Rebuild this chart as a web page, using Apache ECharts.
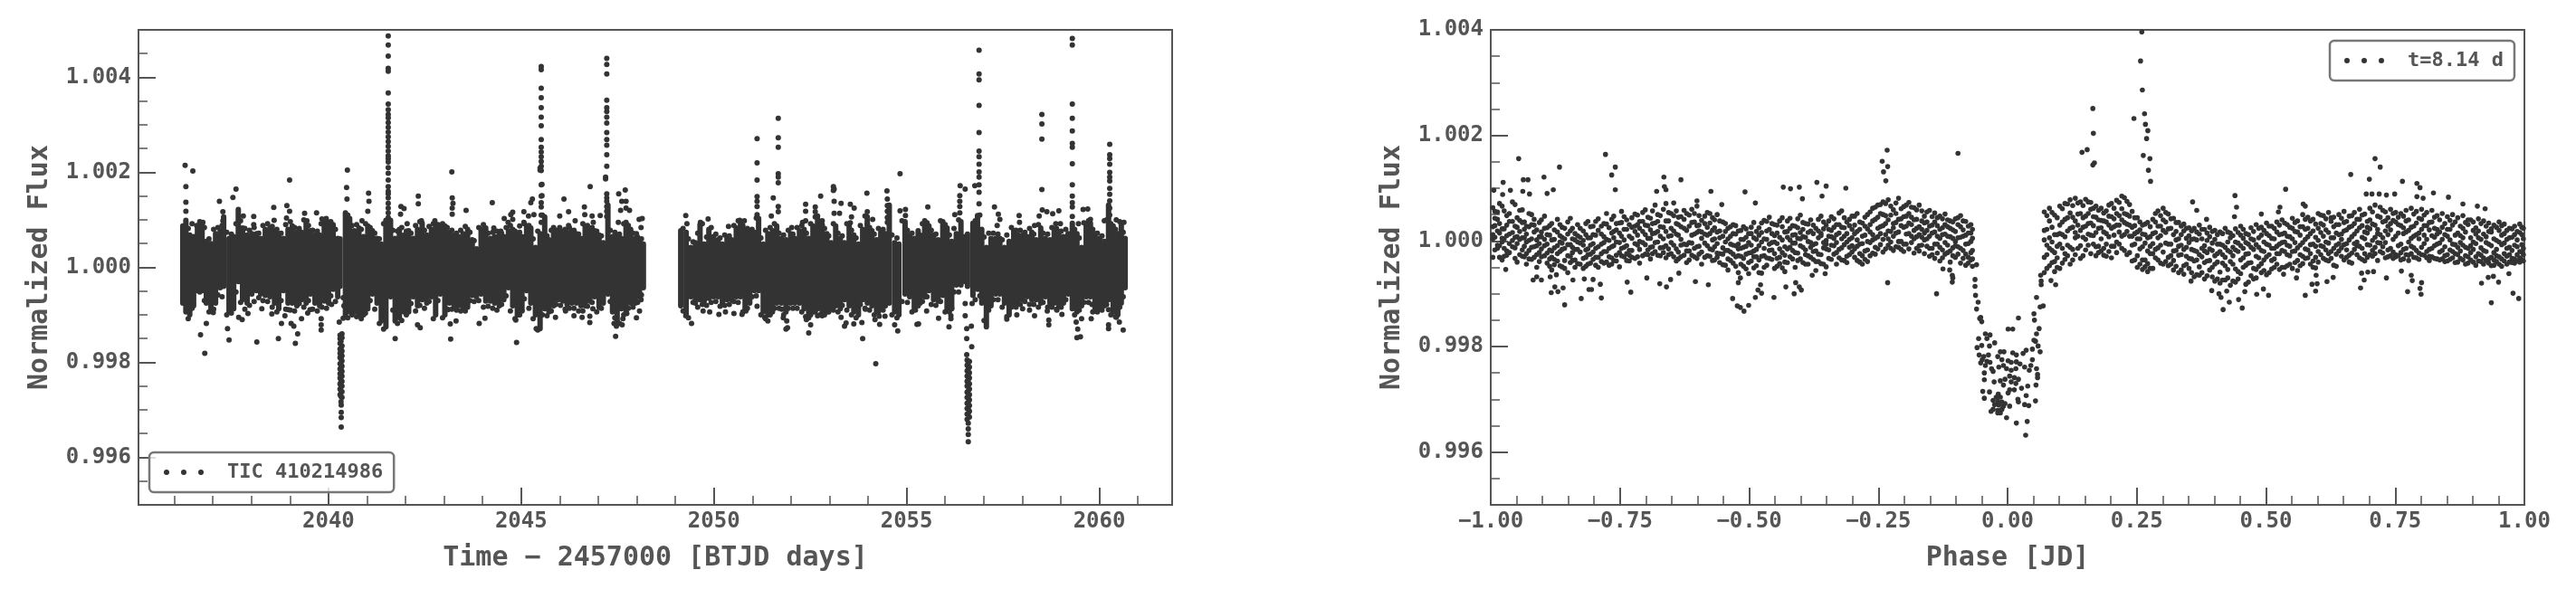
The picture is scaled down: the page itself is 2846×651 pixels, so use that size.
<!DOCTYPE html>
<html>
<head>
<meta charset="utf-8">
<title>TIC 410214986</title>
<script src="https://cdn.jsdelivr.net/npm/echarts@6/dist/echarts.min.js"></script>
<style>
html, body { margin: 0; padding: 0; background: #fff; }
#chart { width: 2846px; height: 651px; }
</style>
</head>
<body>
<div id="chart"></div>
<script>
// flux values below are (flux - 1) * 1e5; time is BTJD - 2000
const timeLabels = [2040, 2045, 2050, 2055, 2060]
const timeMinor = [2036, 2037, 2038, 2039, 2041, 2042, 2043, 2044, 2046, 2047, 2048, 2049, 2051, 2052, 2053, 2054, 2056, 2057, 2058, 2059, 2061]
const fluxLabels = [0.996, 0.998, 1.000, 1.002, 1.004]
const fluxMinor = [0.9955, 0.9965, 0.997, 0.9975, 0.9985, 0.999, 0.9995, 1.0005, 1.001, 1.0015, 1.0025, 1.003, 1.0035, 1.0045]
const phaseLabels = [-1, -0.75, -0.5, -0.25, 0, 0.25, 0.5, 0.75, 1]
const phaseMinor = [-0.95, -0.9, -0.85, -0.8, -0.7, -0.65, -0.6, -0.55, -0.45, -0.4, -0.35, -0.3, -0.2, -0.15, -0.1, -0.05, 0.05, 0.1, 0.15, 0.2, 0.3, 0.35, 0.4, 0.45, 0.55, 0.6, 0.65, 0.7, 0.8, 0.85, 0.9, 0.95]
const foldFluxMinor = [0.9955, 0.9965, 0.997, 0.9975, 0.9985, 0.999, 0.9995, 1.0005, 1.001, 1.0015, 1.0025, 1.003, 1.0035]

// solid body of the light curve, too dense to read point by point: [time, top, bottom]
const curveBody = [
  [36.22,87,-75],[36.30,99,-94],[36.40,68,-100],[36.50,65,-81],[36.60,87,-49],[36.72,93,-49],[36.83,55,-75],[36.95,50,-87],[37.07,71,-75],[37.19,77,-43],
  [37.28,106,-40],[37.42,61,-94],[37.54,65,-87],[37.66,122,-30],[37.77,83,-68],[37.89,68,-75],[38.01,71,-56],[38.13,71,-49],[38.24,61,-56],[38.36,80,-59],
  [38.48,83,-62],[38.60,77,-75],[38.71,71,-87],[38.83,61,-49],[38.95,80,-75],[39.06,87,-75],[39.18,74,-81],[39.30,74,-68],[39.42,93,-75],[39.53,77,-56],
  [39.65,68,-75],[39.77,68,-81],[39.89,99,-71],[40.00,93,-75],[40.12,90,-46],[40.24,61,-62],[40.30,60,-40],[40.44,115,-100],[40.55,103,-94],[40.67,77,-94],[40.79,83,-100],
  [40.91,65,-100],[41.02,87,-87],[41.14,77,-56],[41.26,61,-75],[41.37,49,-113],[41.49,99,-125],[41.61,99,-62],[41.73,61,-113],[41.84,80,-106],[41.96,68,-94],
  [42.08,77,-94],[42.20,61,-62],[42.31,80,-81],[42.43,93,-68],[42.55,68,-75],[42.67,80,-62],[42.78,90,-100],[42.90,87,-56],[43.02,87,-100],
  [43.14,74,-75],[43.26,68,-81],[43.37,65,-81],[43.49,71,-84],[43.61,80,-84],[43.73,58,-59],[43.84,39,-62],[43.96,80,-56],[44.08,83,-71],[44.20,61,-71],
  [44.31,65,-75],[44.43,68,-81],[44.55,65,-68],[44.67,77,-43],[44.78,80,-81],[44.90,68,-100],[45.02,65,-91],[45.14,87,-49],[45.25,83,-75],[45.37,42,-100],
  [45.49,71,-129],[45.61,106,-87],[45.72,58,-94],[45.84,71,-81],[45.96,71,-68],[46.08,71,-71],[46.19,74,-78],[46.31,77,-75],[46.43,71,-75],[46.55,61,-81],
  [46.66,87,-81],[46.78,80,-71],[46.90,77,-62],[47.02,68,-84],[47.13,52,-75],[47.25,131,-56],[47.37,65,-94],[47.49,68,-113],[47.60,61,-87],[47.72,93,-94],
  [47.84,80,-75],[47.96,61,-75],[48.07,55,-62],[48.17,49,-43],
  [49.14,77,-81],[49.28,74,-100],[49.40,42,-62],[49.52,52,-75],[49.64,90,-68],[49.75,49,-71],[49.87,80,-65],[49.99,65,-62],[50.11,58,-62],[50.22,49,-75],
  [50.34,61,-68],[50.46,58,-68],[50.58,83,-62],[50.69,96,-62],[50.81,80,-87],[50.93,77,-75],[51.05,74,-49],[51.16,103,-49],[51.28,49,-94],[51.40,71,-100],
  [51.52,77,-94],[51.63,87,-75],[51.75,61,-75],[51.87,58,-94],[51.99,71,-75],[52.10,61,-75],[52.22,77,-75],[52.34,80,-87],[52.46,61,-106],[52.57,87,-94],
  [52.69,103,-87],[52.81,90,-94],[52.93,71,-94],[53.04,52,-87],[53.16,87,-81],[53.28,61,-87],[53.39,52,-68],[53.51,87,-81],[53.63,68,-94],[53.75,49,-100],
  [53.86,80,-68],[53.98,106,-75],[54.10,77,-81],[54.22,58,-94],[54.33,74,-87],[54.45,71,-81],[54.55,131,-75],[54.69,52,-94],[54.80,49,-100],[54.96,96,-56],
  [55.08,68,-62],[55.20,61,-87],[55.30,77,-81],
  [55.35,68,-75],[55.47,87,-62],[55.58,87,-49],[55.70,68,-68],[55.82,58,-71],[55.94,96,-59],[56.05,83,-87],[56.17,55,-87],[56.29,71,-37],[56.41,96,-37],
  [56.52,65,-30],[56.58,70,-40],[56.72,93,-56],[56.84,109,-46],[56.95,80,-75],[57.07,42,-125],[57.19,61,-81],[57.31,61,-56],[57.42,61,-56],[57.54,42,-75],[57.66,55,-100],
  [57.78,77,-75],[57.89,68,-75],[58.01,68,-68],[58.13,65,-62],[58.25,74,-68],[58.36,58,-68],[58.48,83,-75],[58.60,61,-62],[58.72,58,-75],[58.83,77,-75],
  [58.95,74,-81],[59.07,65,-75],[59.19,71,-56],[59.30,93,-87],[59.42,71,-94],[59.54,42,-81],[59.66,90,-62],[59.77,93,-62],[59.89,71,-87],[60.01,61,-87],
  [60.13,55,-81],[60.24,131,-68],[60.36,87,-94],[60.48,71,-100],[60.57,90,-75],[60.67,61,-43]
]

// single points standing clear of the body: [time, flux, flux, ...]
const curvePoints = [
  [36.28,215],[36.48,203],[36.30,170,137,118],[37.60,165],[37.52,147],[37.17,139],[37.26,117,98],[38.99,184,118],[38.92,130],[38.58,126],[38.06,107,90],[37.79,108],
  [38.59,99],[38.91,104],[39.38,114],[39.69,115],[39.44,98],[39.81,92],[39.94,103],[36.74,95],[36.58,88],[40.49,205],[40.47,168],[40.48,144],[41.04,156],[41.05,139],
  [41.02,118],[40.87,98],[42.33,150,134],[41.88,128],[41.96,124],[41.87,112],[42.04,92],[42.41,98],[42.76,98],
  [41.55,487,468,445,419,413,367,344,332,322,315,305,295,285,275,265,255,245,235,229,222,210,198,184,170,160,155,146,135,125,115,105,95,85],
  [36.83,-118],[36.68,-142],[36.79,-181],[37.38,-129],[37.42,-153],[38.14,-157],[38.70,-150],[39.20,-140],[39.14,-160],[40.08,-78],[39.81,-108,-121,-132],[38.78,-118],
  [39.03,-118],[39.10,-124],[39.30,-108],[39.46,-96],[39.52,-89],[37.01,-95],[37.67,-105],[37.76,-110],[37.91,-97],[38.27,-87],[38.53,-98],[38.96,-89],[38.87,-102],
  [40.38,-107,-64],[40.28,-115],[40.40,-81],[41.73,-150],[42.31,-121],[42.38,-127],
  [40.33,-290,-305,-316,-336],[40.30,-143,-150,-160,-172,-181,-190,-203,-214,-224,-233,-245,-256,-268],[40.35,-140,-148,-165,-176,-186,-197,-208,-219,-229,-240,-250,-262,-274],[40.325,-155,-170,-180,-193,-205,-215,-227,-238,-250,-260,-272,-283],
  [43.20,201],[43.21,146,125,112],[43.23,135],[43.57,120],[44.25,136],[45.29,144],[45.25,136],[44.78,116,101],[44.73,111],[44.56,103],[44.66,95],[45.07,117,95],[45.19,108],
  [45.33,111],[46.79,170],[46.11,144],[46.23,117,88],[46.00,108,84],[46.64,127],[46.65,111],[46.84,108],[47.05,109],[46.87,95],[46.40,98],[45.84,84],[44.96,87],[44.29,83],[44.47,76],
  [45.52,423,416,377,357,336,316,298,269,253,243,233,223,213,204,174,150,136,127,110,95],[45.49,209,205],[45.54,175,151],
  [47.22,440,427,407,352,336,328,316,304,284,269,257,237,213,155,146,139,128,118,107],[47.19,190,186],
  [47.53,155],[47.70,163],[47.61,139],[47.72,139,125,95],[47.81,120],[47.58,120],[47.52,95],[48.06,101],[48.14,103],[48.11,84],[47.99,71],
  [43.10,-89],[43.31,-113],[43.16,-119],[43.17,-151],[44.06,-107],[43.91,-118],[44.88,-158],[44.86,-111],[45.02,-92],[45.89,-105],[46.15,-92],[46.37,-102],[46.78,-103,-116],
  [46.86,-87],[46.58,-105],[47.45,-145],[47.62,-121],[47.64,-108],[47.99,-106],[48.07,-92],[47.74,-97],[48.11,-68],[47.41,-118],[47.47,-124],[45.39,-129],
  [51.12,271,220,184,149,139,128,111],[51.67,314,273,253,197,190,178,128,117],[51.54,146],[51.49,108],[49.27,109,-102],[49.30,92],[49.85,102],[49.65,95],[50.38,86],[50.67,99],[50.79,98],
  [52.77,150],[53.12,165,139,114],[53.10,170,162],[53.30,135],[53.26,114],[52.38,133,118,98],[52.63,127,117],[52.69,108],[52.81,98],[52.30,95],[52.02,84],[53.54,133,94],[53.64,125],[53.57,106],
  [53.97,156],[54.49,161],[54.50,144,130,118,105,95],[54.83,197,119],[54.97,122,109],[53.98,117,92],[54.12,101],
  [49.42,-118],[49.72,-92],[49.89,-94],[50.13,-99],[50.30,-94],[50.52,-97],[50.73,-99],[50.83,-92],[51.12,-82],[51.32,-105],[51.40,-113],[51.44,-92],[51.76,-88],[51.80,-106],[51.89,-113],
  [51.87,-130],[51.91,-127],[52.38,-104],[52.46,-138],[52.51,-121],[52.69,-102],[52.81,-102],[53.30,-105],[53.39,-124],[53.43,-117],[53.63,-119],[53.84,-116],[53.86,-150],[54.20,-203],
  [53.93,-88],[54.18,-110],[54.29,-103],[54.44,-103],[54.30,-120],[54.69,-121],[54.77,-134],[55.23,-90],[55.27,-120],
  [56.39,172],[56.52,165],[56.77,172],[56.38,151,139,128,115],[56.25,111],[56.88,457,407,395,341,284,245,233,217,201,190,174,158,134],[55.55,127],[55.47,98],[57.28,127],[57.38,112],[57.42,101],[57.35,88],
  [57.92,109],[57.93,95],[58.51,322,302,270,164],[58.44,108],[58.52,121],[58.64,117],[58.79,113],[58.95,119],[58.32,88],[58.87,92],[58.99,92],[59.30,482,468,344,314,287,261,253,218,174,150,136,127,107],
  [59.58,122],[59.70,123],[59.77,101],[59.46,92],[60.13,98],[60.27,259,237,229,217,200,190,182,166,154,140,125,110],[60.44,100],[60.64,95],
  [55.52,-92],[55.83,-107],[55.31,-119],[56.10,-125],[56.15,-102,-108],[56.17,-86],[56.52,-102,-76],[56.56,-129,-150,-184],[56.68,-124],[56.69,-167],[56.70,-76],[56.72,-59],[57.60,-109],[57.86,-100],
  [58.01,-87],[58.19,-90],[58.32,-102],[58.65,-92],[58.69,-111,-121],[58.90,-90],[59.03,-99],[59.40,-115],[59.54,-108],[59.44,-130],[59.42,-148],[59.51,-146],[59.81,-78],[59.79,-108],[59.89,-92],
  [60.24,-89,-121,-129],[60.52,-115],[60.62,-132],[60.44,-105],
  [56.60,-340,-352,-367],[56.57,-195,-206,-218,-229,-240,-250,-263,-274,-286,-297,-309,-320],[56.63,-198,-210,-222,-233,-245,-256,-268,-279,-291,-303,-315],[56.60,-201,-214,-226,-237,-248,-260,-272,-284,-295,-307,-328]
]

// rough dots along the edge of the body: [time, upper, lower]
const curveEdge = [
  [36.26,78,-62],[36.36,82,-108],[36.46,92,-86],[36.66,96,-52],[36.78,84,-70],[36.90,60,-94],[37.02,80,-88],[37.13,84,-58],[37.24,88,-62],[37.36,74,-100],[37.48,70,-96],[37.60,92,-52],
  [37.72,98,-74],[37.83,82,-88],[37.95,78,-80],[38.07,84,-72],[38.19,72,-64],[38.30,88,-70],[38.42,92,-72],[38.54,86,-84],[38.66,80,-94],[38.77,72,-70],[38.89,90,-88],[39.01,96,-90],
  [39.12,84,-92],[39.24,82,-76],[39.36,100,-84],[39.48,88,-70],[39.59,78,-88],[39.71,76,-92],[39.83,102,-84],[39.95,98,-86],[40.06,96,-60],[40.18,80,-72],[40.50,110,-106],[40.61,88,-100],
  [40.73,90,-104],[40.85,80,-108],[40.96,92,-96],[41.08,84,-70],[41.20,72,-88],[41.32,60,-118],[41.43,92,-130],[41.67,78,-90],[41.79,76,-118],[41.90,84,-112],[42.02,76,-100],[42.14,72,-76],
  [42.26,88,-92],[42.37,96,-80],[42.49,78,-86],[42.61,86,-72],[42.72,92,-108],[42.84,90,-70],[42.96,92,-106],[43.08,84,-88],[43.20,78,-88],[43.32,72,-90],[43.43,78,-92],[43.55,86,-92],
  [43.67,74,-70],[43.78,56,-72],[43.90,84,-70],[44.02,90,-84],[44.14,72,-82],[44.26,74,-86],[44.37,76,-90],[44.49,72,-78],[44.61,84,-60],[44.72,88,-92],[44.84,76,-108],[44.96,74,-100],
  [45.08,92,-66],[45.20,88,-86],[45.31,60,-108],[45.43,76,-132],[45.55,110,-100],[45.67,66,-102],[45.78,78,-92],[45.90,78,-78],[46.02,78,-80],[46.14,80,-88],[46.25,84,-86],[46.37,78,-86],
  [46.49,70,-92],[46.60,92,-92],[46.72,88,-82],[46.84,84,-74],[46.96,76,-94],[47.08,66,-86],[47.31,78,-72],[47.43,74,-106],[47.55,70,-118],[47.66,92,-100],[47.78,88,-86],[47.90,72,-84],
  [48.02,64,-74],[48.12,60,-58],
  [49.20,82,-92],[49.34,60,-106],[49.46,54,-74],[49.58,72,-84],[49.70,92,-78],[49.81,64,-80],[49.93,84,-74],[50.05,70,-72],[50.16,62,-82],[50.28,68,-80],[50.40,66,-78],[50.52,88,-72],
  [50.63,98,-74],[50.75,88,-94],[50.87,82,-86],[50.99,80,-62],[51.10,104,-60],[51.22,62,-100],[51.34,78,-108],[51.46,84,-100],[51.57,92,-86],[51.69,72,-86],[51.81,68,-100],[51.93,78,-86],
  [52.05,70,-86],[52.16,84,-86],[52.28,88,-94],[52.40,72,-110],[52.51,92,-100],[52.63,106,-94],[52.75,96,-100],[52.87,82,-100],[52.98,66,-94],[53.10,92,-90],[53.22,72,-94],[53.33,66,-80],
  [53.45,92,-90],[53.57,78,-100],[53.69,62,-106],[53.80,88,-78],[53.92,108,-86],[54.04,84,-90],[54.16,70,-100],[54.27,82,-94],[54.39,80,-90],[54.62,68,-100],[54.75,62,-106],[54.88,98,-72],
  [55.02,78,-74],[55.14,72,-94],[55.41,92,-72],[55.53,94,-62],[55.64,78,-78],[55.76,70,-80],[55.88,98,-72],[56.00,90,-94],[56.11,68,-94],[56.23,82,-52],[56.35,100,-52],[56.78,98,-68],
  [56.90,110,-60],[57.01,64,-112],[57.13,72,-90],[57.25,72,-68],[57.37,70,-68],[57.48,58,-84],[57.60,68,-104],[57.72,84,-84],[57.84,78,-84],[57.95,78,-78],[58.07,74,-72],[58.19,82,-78],
  [58.30,70,-78],[58.42,90,-84],[58.54,72,-74],[58.66,70,-84],[58.77,84,-84],[58.89,82,-88],[59.01,76,-84],[59.13,80,-68],[59.36,80,-100],[59.48,62,-90],[59.60,94,-74],[59.72,98,-74],
  [59.83,80,-94],[59.95,72,-94],[60.07,66,-90],[60.19,100,-78],[60.30,92,-100],[60.42,80,-104],[60.53,96,-84],[60.62,74,-62]
]

// phase folded curve: [phase, flux, flux, ...]
const foldBody = [
  [-0.996,63,12,4,-31,27],[-0.987,41,19,-8,-14,55],[-0.978,23,5,-36,66,-2],[-0.969,48,30,-19,10,-27],[-0.958,74,16,1,-11,37],[-0.949,26,-5,-40,44,8],
  [-0.939,35,-17,6,59,-29],[-0.931,13,-2,-44,28,-24],[-0.921,31,-35,-12,50,4],[-0.911,2,21,-26,-50,-9],[-0.902,40,-30,8,-15,17],[-0.891,25,-42,-6,12,-23],
  [-0.882,-19,33,2,-55,-31],[-0.871,17,-9,-38,41,-24],[-0.862,-4,26,-49,-16,7],[-0.851,13,-28,36,-60,-7],[-0.842,-22,4,-37,24,-12],[-0.832,31,-43,-16,-2,10],
  [-0.821,-8,19,-33,-52,1],[-0.812,37,-26,6,-15,-44],[-0.802,12,-35,-5,-21,28],[-0.792,42,-11,-31,20,-50],[-0.781,8,-20,33,-3,-42],[-0.771,-30,25,1,-14,-46],
  [-0.762,18,47,-9,-37,6],[-0.751,34,-3,-22,15,-49],[-0.742,-12,22,46,-30,2],[-0.732,9,-27,31,-18,-38],[-0.721,51,18,-5,-33,28],[-0.712,-1,24,-16,-42,37],
  [-0.701,30,59,12,-25,-7],[-0.691,21,-12,43,-34,5],[-0.682,68,34,15,-20,-3],[-0.672,9,27,-28,48,-13],[-0.661,38,18,71,-9,-32],[-0.651,52,24,-3,-24,10],
  [-0.641,13,33,-15,-38,57],[-0.632,46,3,27,-30,-8],[-0.621,20,-7,52,-19,-41],[-0.611,35,11,-27,-4,60],[-0.601,66,16,-11,29,-33],[-0.592,5,39,-21,17,-44],
  [-0.581,26,54,-9,-28,11],[-0.571,44,2,-17,20,-37],[-0.562,17,50,-5,-31,-23],[-0.551,36,-13,9,-45,-25],[-0.541,4,24,-34,-18,-55],[-0.531,14,-8,31,-42,-25],
  [-0.521,-6,19,-28,-60,-15],[-0.511,27,-12,-33,3,-48],[-0.501,-3,14,-41,-23,-62],[-0.491,35,6,-19,-51,-30],[-0.481,11,-9,-36,-60,25],[-0.471,39,-14,-28,4,-50],
  [-0.461,22,45,-6,-33,-18],[-0.451,-2,31,-24,-52,10],[-0.441,38,7,-15,-43,-31],[-0.431,17,-11,-40,-27,-58],[-0.421,43,2,-30,24,-12],[-0.411,28,-22,-4,-50,12],
  [-0.401,49,16,-9,-34,4],[-0.391,7,33,-17,-44,-26],[-0.381,40,19,-12,-31,-3],[-0.371,24,-5,-39,-19,-56],[-0.361,47,10,-26,14,-43],[-0.351,1,30,-15,-49,-6],
  [-0.341,20,46,-8,-35,8],[-0.331,12,31,-22,-3,-44],[-0.321,57,26,-13,4,-36],[-0.311,36,-2,14,-29,-41],[-0.301,47,6,-21,22,-9],[-0.291,18,52,-10,-37,2],
  [-0.281,34,-5,9,-28,-44],[-0.271,23,50,-17,-1,-39],[-0.261,62,12,38,-23,2],[-0.251,45,8,68,-15,24],[-0.241,29,74,3,-21,50],[-0.231,78,19,40,-8,4],
  [-0.221,33,59,9,-18,25],[-0.211,81,41,17,-12,-1],[-0.201,26,65,-6,46,-20],[-0.191,52,14,73,-15,34],[-0.181,40,4,-23,63,20],[-0.171,68,27,-9,12,-19],
  [-0.161,15,47,-24,34,2],[-0.151,58,9,-14,28,-29],[-0.141,36,-6,53,17,-33],[-0.131,22,-12,47,5,-38],[-0.121,51,13,-25,-3,31],[-0.111,8,38,-19,-40,24],
  [-0.101,42,-9,18,-31,-1],[-0.091,27,48,-14,7,-42],[-0.081,11,37,-25,-6,-46],[-0.071,31,-1,15,-36,-22],
  [0.071,55,2,-31,20,-60],[0.081,38,62,-14,-47,6],[0.091,12,49,-39,-22,-58],[0.101,66,-6,30,-52,14],[0.111,41,71,-24,8,-35],[0.121,24,78,-12,53,-44],
  [0.131,81,38,6,-26,16],[0.141,52,20,74,-9,-33],[0.151,28,79,-17,47,3],[0.161,60,11,34,-24,73],[0.171,16,45,-11,-28,66],[0.181,39,4,62,-19,25],
  [0.191,57,14,-29,36,-6],[0.201,24,71,-10,46,-32],[0.211,77,30,-2,52,-22],[0.221,40,85,9,-14,61],[0.231,18,75,32,-26,50],[0.241,56,-8,26,-38,9],
  [0.251,44,4,-28,17,-50],[0.261,-11,30,-36,13,-54],[0.271,35,-19,6,-43,-58],[0.281,41,14,-24,-5,-52],[0.291,57,-13,28,-36,6],[0.301,20,62,-21,40,-44],
  [0.311,51,-6,23,-31,-47],[0.321,12,43,-19,-37,-55],[0.331,35,4,-27,-10,-60],[0.341,19,-16,32,-47,-63],[0.351,-3,25,-33,-52,10],[0.361,-18,24,-38,4,-68],
  [0.371,13,-26,30,-49,-65],[0.381,22,-9,-41,-19,-72],[0.391,-15,8,-37,-55,26],[0.401,3,-28,20,-44,-76],[0.411,17,-20,-6,-59,-80],[0.421,-31,24,-12,-47,-74],
  [0.431,6,-39,15,-21,-84],[0.441,23,-17,-53,-2,-78],[0.451,-9,28,-36,-62,11],[0.461,14,-25,-46,-3,-82],[0.471,-12,25,-41,-66,4],[0.481,31,-7,-29,-54,-70],
  [0.491,11,-18,26,-43,-60],[0.501,34,-6,-30,14,-64],[0.511,-14,28,-37,5,-53],[0.521,36,-10,17,-44,-24],[0.531,13,40,-18,-50,-3],[0.541,-8,31,-26,-47,9],
  [0.551,43,4,-20,24,-52],[0.561,17,-13,38,-37,-56],[0.571,50,-3,27,-29,-43],[0.581,8,45,-17,-32,24],[0.591,41,-6,19,-38,-50],[0.601,24,52,-20,1,-40],
  [0.611,48,9,-11,-33,30],[0.621,-4,54,16,-24,-38],[0.631,27,45,-14,6,-46],[0.641,50,12,-19,-5,31],[0.651,19,56,-7,35,-36],[0.661,47,2,-27,26,-40],
  [0.671,54,13,-16,33,-5],[0.681,25,60,-10,41,-32],[0.691,51,4,-24,17,-38],[0.701,62,23,-8,40,-26],[0.711,30,68,7,-12,-24],[0.721,64,12,45,-20,-4],
  [0.731,38,-3,55,19,-32],[0.741,60,21,-14,33,-28],[0.751,9,54,-26,36,-30],[0.761,29,52,-6,-22,-36],[0.771,58,17,-14,38,-26],[0.781,5,62,26,-10,-24],
  [0.791,56,34,-18,12,-32],[0.801,22,60,-12,41,-26],[0.811,54,3,-20,29,-32],[0.821,36,58,10,-14,-30],[0.831,48,-6,22,-34,13],[0.841,26,52,-18,3,-34],
  [0.851,46,9,-26,22,-38],[0.861,50,-6,30,-20,-32],[0.871,15,44,-12,-26,-40],[0.881,48,24,-8,-36,6],[0.891,31,-14,40,-30,-42],[0.901,20,36,-16,-2,-40],
  [0.911,42,6,-24,19,-38],[0.921,13,38,-18,-32,-44],[0.931,34,-6,-34,18,-42],[0.941,4,30,-22,-36,-46],[0.951,36,-2,-30,20,-44],[0.961,14,32,-24,-38,-4],
  [0.971,24,-12,-26,6,-40],[0.981,28,-8,12,-34,-42],[0.991,16,32,-20,-32,-40],[0.998,24,-14,4,-26,-38]
]

// second reading between the columns above, breaks up the rows
const foldFill = [
  [-0.992,56,29,7,-17,43],[-0.983,15,-9,33,71,-31],[-0.974,57,4,-29,23,-14],[-0.964,37,13,-5,52,-22],[-0.953,69,28,-13,7,-33],[-0.944,18,39,-26,3,58],
  [-0.935,36,-10,22,-30,6],[-0.926,27,-18,52,1,-34],[-0.916,17,41,-11,-31,30],[-0.906,8,-22,35,-39,-5],[-0.896,24,-9,47,-28,3],[-0.886,11,-34,29,-17,-48],
  [-0.877,-13,21,-35,3,-45],[-0.866,31,-20,-2,-47,10],[-0.857,4,-37,24,-14,-52],[-0.846,19,-29,-7,-41,43],[-0.837,-16,14,-36,2,-50],[-0.827,24,-21,-4,-44,7],
  [-0.816,12,-31,33,-17,-48],[-0.807,-8,27,-25,6,-42],[-0.797,37,-14,11,-31,-46],[-0.786,28,-6,-24,13,-39],[-0.776,52,3,-20,32,-40],[-0.766,15,-32,41,-11,-44],
  [-0.757,33,-2,21,-27,-38],[-0.747,56,9,-14,35,-28],[-0.737,22,-9,40,-24,-37],[-0.727,44,5,-18,26,-31],[-0.716,11,-30,31,-8,49],[-0.706,37,-3,18,-28,54],
  [-0.696,45,5,-17,29,-26],[-0.687,33,-11,57,14,-24],[-0.677,50,18,-2,-27,37],[-0.666,60,26,-12,4,-22],[-0.656,38,9,54,-15,-26],[-0.646,72,19,-8,48,-30],
  [-0.637,45,11,31,-21,-34],[-0.626,58,24,-6,41,-27],[-0.616,28,-3,49,-19,-36],[-0.606,36,13,-14,52,-30],[-0.597,48,19,-10,30,-25],[-0.586,33,-4,47,13,-31],
  [-0.576,52,14,-15,34,-29],[-0.567,25,-11,40,4,-36],[-0.557,38,6,-24,19,-41],[-0.546,18,-18,33,-2,-46],[-0.536,9,-21,27,-37,-6],[-0.526,13,-30,-9,-48,29],
  [-0.516,20,-14,-44,3,-29],[-0.506,7,-25,-53,-10,23],[-0.496,26,-8,-38,14,-22],[-0.486,18,-16,-47,3,-30],[-0.476,34,-2,-29,16,-61],[-0.466,37,3,-32,19,-46],
  [-0.456,14,-17,33,-35,-3],[-0.446,30,-5,-33,15,-48],[-0.436,27,-22,2,-51,44],[-0.426,38,7,-15,-41,18],[-0.416,11,-34,29,-18,-4],[-0.406,42,5,-23,25,-37],
  [-0.396,22,-12,-41,8,35],[-0.386,32,-1,-28,16,-44],[-0.376,14,-20,30,-35,-7],[-0.366,41,6,-25,19,-39],[-0.356,23,-13,36,-3,-44],[-0.346,38,9,-17,-33,22],
  [-0.336,26,-9,42,-25,5],[-0.326,53,15,-16,31,-32],[-0.316,44,9,-7,25,-37],[-0.306,29,-12,41,-26,3],[-0.296,47,14,-15,30,-31],[-0.286,36,-6,22,-24,-40],
  [-0.276,45,11,-19,28,-35],[-0.266,31,55,-3,17,-28],[-0.256,64,41,5,-12,-25],[-0.246,52,27,69,-7,14],[-0.236,71,33,12,-15,48],[-0.226,49,18,66,-2,-14],
  [-0.216,72,35,15,-11,52],[-0.206,61,29,-1,42,-16],[-0.196,47,68,13,-6,28],[-0.186,64,31,-3,45,9],[-0.176,59,24,-14,41,8],[-0.166,38,57,7,-8,22],
  [-0.156,55,20,36,-10,4],[-0.146,46,15,-14,30,-26],[-0.136,29,-6,44,9,-23],[-0.126,42,12,-17,25,-32],[-0.116,27,-8,40,-22,9],[-0.106,36,5,-13,-28,21],
  [-0.096,31,-11,44,-25,6],[-0.086,38,9,-18,21,-33],[-0.076,28,-5,15,-31,-42],[-0.068,22,-18,5,-34,-48],
  [0.076,48,-26,-8,22,-52],[0.086,54,-2,26,-41,-18],[0.096,44,12,-32,-10,-50],[0.106,61,36,-14,12,-42],[0.116,70,19,44,-8,-28],[0.126,67,26,-16,45,-36],
  [0.136,72,30,9,-14,51],[0.146,67,44,7,26,-28],[0.156,74,33,13,52,-8],[0.166,62,29,-6,46,10],[0.176,58,24,-10,40,-22],[0.186,53,17,38,-14,-27],
  [0.196,68,30,8,47,-20],[0.206,62,42,11,27,-10],[0.216,73,48,17,30,-6],[0.226,82,35,52,12,-18],[0.236,69,30,9,47,-22],[0.246,44,14,-6,29,-36],
  [0.256,36,4,-15,21,-44],[0.266,32,-4,12,-36,-49],[0.276,27,-10,-24,8,-52],[0.286,52,16,-16,-32,36],[0.296,48,28,-8,10,-42],[0.306,54,16,-4,36,-39],
  [0.316,42,-6,24,-28,-44],[0.326,35,2,-18,18,-48],[0.336,28,-8,12,-26,-55],[0.346,24,-12,5,-44,-29],[0.356,19,-16,3,-34,-60],[0.366,17,-20,-36,2,-64],
  [0.376,22,-14,-30,4,-60],[0.386,15,-22,-38,1,-66],[0.396,18,-18,-4,-50,-68],[0.406,12,-24,-40,-6,-72],[0.416,14,-26,-8,-42,-74],[0.426,17,-18,-54,-2,-70],
  [0.436,10,-28,-44,-12,-76],[0.446,16,-20,-58,-4,-72],[0.456,22,-14,-32,-50,5],[0.466,12,-24,-42,-6,-78],[0.476,18,-16,-52,2,-72],[0.486,24,-12,-32,-48,6],
  [0.496,20,-20,-36,-2,-56],[0.506,28,-8,-26,10,-60],[0.516,24,-14,-34,4,-50],[0.526,30,-6,-24,12,-54],[0.536,34,-2,-20,15,-50],[0.546,26,-10,8,-44,-28],
  [0.556,35,-3,-19,18,-41],[0.566,27,-26,11,-8,-47],[0.576,41,3,-15,22,-33],[0.586,14,38,-24,-7,-44],[0.596,32,-10,7,-31,-51],[0.606,49,16,-9,-26,33],
  [0.616,21,42,-2,-17,-36],[0.626,6,37,-20,-33,44],[0.636,31,-8,15,-25,-48],[0.646,13,43,-13,-29,3],[0.656,37,-5,21,-17,-31],[0.666,8,48,-23,28,-42],
  [0.676,41,-9,19,-26,-2],[0.686,29,49,-14,7,-35],[0.696,15,37,-7,-31,26],[0.706,55,1,32,-18,-29],[0.716,22,47,-3,14,-37],[0.726,36,-11,6,58,-23],
  [0.736,44,12,-17,28,-30],[0.746,3,39,-21,52,-33],[0.756,31,-9,45,15,-28],[0.766,14,47,-16,25,-34],[0.776,40,-2,20,-27,-37],[0.786,28,51,-13,9,-31],
  [0.796,43,4,-23,15,-35],[0.806,11,49,-5,29,-27],[0.816,35,-16,21,-29,-37],[0.826,45,7,-9,24,-33],[0.836,17,40,-21,-4,-36],[0.846,33,-11,12,-28,-39],
  [0.856,39,2,-17,22,-35],[0.866,11,36,-24,-7,-41],[0.876,28,-3,-19,10,-33],[0.886,35,-12,17,-28,-44],[0.896,6,40,-22,-9,-36],[0.906,25,-5,13,-30,-46],
  [0.916,33,-13,3,-27,-39],[0.926,8,28,-20,-37,-3],[0.936,23,-9,17,-31,-47],[0.946,1,26,-16,-39,-28],[0.956,29,-7,11,-34,-48],[0.966,20,-14,3,-29,-44],
  [0.976,7,23,-18,-33,-41],[0.986,18,-11,-26,2,-38],[0.995,12,-7,-21,-35,26]
]

const foldPoints = [
  [-0.946,156],[-0.778,164],[-0.759,140,97],[-0.766,125],[-0.867,140],[-0.897,121],[-0.937,116],[-0.928,116],[-0.976,111],[-0.994,96],[-0.938,94],[-0.925,89],[-0.977,88],[-0.962,96],[-0.891,90],[-0.879,97],
  [-0.665,121],[-0.632,116],[-0.664,103],[-0.661,97],[-0.679,94],[-0.574,94],[-0.508,93],[-0.434,102],[-0.420,99],[-0.403,102],[-0.369,111],[-0.351,104],[-0.488,72],[-0.359,85],[-0.397,80],[-0.601,76],[-0.553,69],
  [-0.971,-54],[-0.857,-121],[-0.825,-109],[-0.786,-108],[-0.883,-98],[-0.870,-96],[-0.876,-87],[-0.860,-89],[-0.810,-92],[-0.805,-92],[-0.918,-74],[-0.902,-74],[-0.911,-68],[-0.885,-68],[-0.873,-64],[-0.841,-74],
  [-0.819,-72],[-0.802,-73],[-0.788,-82],[-0.736,-78],[-0.729,-97],[-0.698,-70],[-0.673,-81],[-0.660,-87],[-0.652,-73],[-0.636,-61],[-0.604,-77],[-0.579,-83],[-0.532,-109],[-0.523,-123],[-0.517,-126,-70],[-0.510,-133],
  [-0.501,-122],[-0.488,-107],[-0.478,-83],[-0.483,-93],[-0.476,-99],[-0.452,-107],[-0.413,-100],[-0.429,-87],[-0.410,-79],[-0.399,-93],[-0.403,-87],[-0.378,-65],[-0.353,-62],[-0.521,-79],
  [-0.096,166],[-0.233,172],[-0.2426,151],[-0.232,141,-79],[-0.240,131],[-0.2356,114],[-0.313,100],[-0.1374,-100],[-0.107,-65,-78],[-0.106,-70],[-0.125,-53],[-0.112,-55],[-0.060,-45],
  [0.2597,396],[0.2573,341],[0.2608,286],[0.265,241],[0.2445,232],[0.2667,221],[0.2714,209],[0.269,194],[0.2626,162],[0.2754,156],[0.2725,134],[0.2766,113],[0.165,251,144],[0.166,204],[0.144,168],[0.154,173],[0.168,148],
  [-0.063,-73,-86],[-0.062,-103],[-0.057,-116],[-0.060,-129],[-0.054,-147],[-0.050,-153],[-0.052,-145],
  [-0.056,-185],[-0.043,-176],[-0.034,-178],[-0.040,-185,-228],[-0.059,-202],[-0.050,-198],[-0.025,-193],[-0.035,-199,-286],[-0.055,-216],[-0.046,-219],[-0.037,-216],[-0.049,-225],[-0.034,-230],[-0.052,-231],
  [-0.014,-210,-265,-296,-326],[-0.007,-210],[-0.019,-219,-304,-321,-326],[-0.011,-225,-305,-319],[0.010,-212,-167],[0.017,-216,-229,-345],[0.036,-207,-293],[0.030,-213],[0.048,-205,-225],[0.059,-199],[0.054,-190,-303],[0.063,-210,-125],
  [0.056,-176,-242,-107],[0.051,-188,-138],[-0.043,-236],[-0.031,-242],[-0.045,-250,-263,-298],[-0.028,-247,-302,-319],[-0.017,-239,-311],[-0.008,-236,-273,-313],[0.001,-227,-288,-167],[0.007,-230,-245,-267],[0.016,-242,-270],
  [0.024,-233],[0.033,-239,-310],[0.045,-236],[0.042,-245],[0.058,-253,-259],[-0.002,-242,-335],[-0.026,-267],[-0.005,-262,-308],[0.004,-256,-282,-313],[0.013,-259,-282],[0.021,-262,-146,-305],[0.027,-279],[0.039,-275],[0.055,-273],
  [-0.048,-285],[0.020,-300],[0.041,-312],[-0.018,-290],[-0.022,-296],[-0.025,-310],[-0.032,-323],[0.038,-342],[0.035,-368],[0.052,-150],[0.061,-166],[0.069,-123],[0.064,-65],[0.065,-76,-83],[0.084,-75],[0.093,-83],
  [0.711,156],[0.721,140],[0.664,126],[0.700,117],[0.764,113],[0.792,109,84],[0.798,101],[0.538,98],[0.824,91],[0.694,89],[0.705,89],[0.719,89],[0.733,87],[0.749,89],[0.440,86],[0.358,74],[0.366,58],[0.443,64],[0.439,46],
  [0.527,64],[0.524,55],[0.572,70],[0.576,66],[0.491,51],[0.804,81],[0.853,83],[0.881,70],[0.909,66],[0.924,61],[0.385,41],
  [0.417,-130],[0.454,-127],[0.429,-116],[0.447,-111],[0.413,-107],[0.395,-94],[0.409,-100],[0.424,-95],[0.459,-96],[0.482,-101],[0.505,-103],[0.495,-91],[0.355,-76],[0.576,-103],[0.596,-95],[0.589,-82],[0.599,-81],[0.597,-65],
  [0.618,-77],[0.630,-69],[0.683,-89],[0.690,-74],[0.685,-61],[0.697,-59],[0.708,-58],[0.733,-70],[0.774,-96],[0.781,-65],[0.783,-75],[0.801,-79],[0.798,-90],[0.800,-101],[0.762,-57],[0.917,-80],[0.930,-69],[0.940,-67],[0.950,-78],
  [0.936,-117],[0.978,-99],[0.989,-109],[0.534,-63],[0.559,-70],[0.970,-62]
]

const fontFamily = '"DejaVu Sans Mono", monospace'
const fontWeight = 'bold'
const textColor = '#555'
const frameColor = '#555'
const dotColor = '#333'
const threeDots = 'path://M3 0a3 3 0 1 0 0 6a3 3 0 1 0 0-6zM22 0a3 3 0 1 0 0 6a3 3 0 1 0 0-6zM41 0a3 3 0 1 0 0 6a3 3 0 1 0 0-6z'

// [time, f1, f2, ...] rows -> [x, flux] points
function toPoints(rows, xOffset) {
  const out = []
  rows.forEach(function(row) {
    for (let i = 1; i < row.length; i++) {
      out.push([row[0] + xOffset, 1 + row[i] / 1e5])
    }
  })
  return out
}

function majorAxis(opt) {
  return Object.assign({
    type: 'value',
    nameLocation: 'middle',
    nameTextStyle: { fontFamily: fontFamily, fontWeight: fontWeight, fontSize: 30, color: textColor },
    splitLine: { show: false },
    axisLine: { show: true, onZero: false, lineStyle: { color: frameColor, width: 2 } },
    axisTick: { inside: true, length: 19, customValues: opt.ticks, lineStyle: { color: frameColor, width: 2 } },
    axisLabel: { customValues: opt.ticks, fontFamily: fontFamily, fontWeight: fontWeight, fontSize: 24, color: textColor, margin: opt.margin, formatter: opt.format }
  }, opt.axis)
}

function minorAxis(opt) {
  return Object.assign({
    type: 'value',
    splitLine: { show: false },
    axisLine: { show: false, onZero: false },
    axisLabel: { show: false },
    axisTick: { inside: true, length: 10, customValues: opt.ticks, lineStyle: { color: frameColor, width: 1.5 } }
  }, opt.axis)
}

function bodyColumn(params, api) {
  const top = api.coord([api.value(0), api.value(1)])
  const bottom = api.coord([api.value(0), api.value(2)])
  return {
    type: 'line',
    shape: { x1: top[0], y1: top[1], x2: bottom[0], y2: bottom[1] },
    style: { stroke: dotColor, lineWidth: 6, lineCap: 'round', fill: null }
  }
}

const chart = echarts.init(document.getElementById('chart'), null, { renderer: 'canvas' })

const legendBase = {
  orient: 'horizontal',
  itemWidth: 44,
  itemHeight: 6,
  itemGap: 0,
  icon: threeDots,
  backgroundColor: 'rgba(255,255,255,0.8)',
  borderColor: '#777',
  borderWidth: 2.5,
  borderRadius: 5,
  selectedMode: false,
  textStyle: { fontFamily: fontFamily, fontWeight: fontWeight, fontSize: 22, color: textColor, padding: [0, 0, 0, 21] }
}

const fmtFlux = function(v) { return v.toFixed(3) }
const fmtPhase = function(v) { return v.toFixed(2).replace('-', '\u2212') }

const option = {
  animation: false,
  backgroundColor: '#fff',
  grid: [
    { left: 153, top: 33, width: 1142, height: 525, show: true, borderColor: frameColor, borderWidth: 2, backgroundColor: 'transparent' },
    { left: 1647, top: 33, width: 1142, height: 525, show: true, borderColor: frameColor, borderWidth: 2, backgroundColor: 'transparent' }
  ],
  xAxis: [
    majorAxis({ ticks: timeLabels, margin: 7, format: function(v) { return String(v) },
      axis: { gridIndex: 0, position: 'bottom', min: 2035.07, max: 2061.89, name: 'Time \u2212 2457000 [BTJD days]', nameGap: 44 } }),
    minorAxis({ ticks: timeMinor, axis: { gridIndex: 0, position: 'bottom', min: 2035.07, max: 2061.89 } }),
    majorAxis({ ticks: phaseLabels, margin: 7, format: fmtPhase,
      axis: { gridIndex: 1, position: 'bottom', min: -1, max: 1, name: 'Phase [JD]', nameGap: 44 } }),
    minorAxis({ ticks: phaseMinor, axis: { gridIndex: 1, position: 'bottom', min: -1, max: 1 } })
  ],
  yAxis: [
    majorAxis({ ticks: fluxLabels, margin: 8, format: fmtFlux,
      axis: { gridIndex: 0, position: 'left', min: 0.995, max: 1.005, name: 'Normalized Flux', nameGap: 94 } }),
    minorAxis({ ticks: fluxMinor, axis: { gridIndex: 0, position: 'left', min: 0.995, max: 1.005 } }),
    majorAxis({ ticks: fluxLabels, margin: 8, format: fmtFlux,
      axis: { gridIndex: 1, position: 'left', min: 0.995, max: 1.004, name: 'Normalized Flux', nameGap: 94 } }),
    minorAxis({ ticks: foldFluxMinor, axis: { gridIndex: 1, position: 'left', min: 0.995, max: 1.004 } })
  ],
  legend: [
    Object.assign({}, legendBase, { left: 165, top: 500, padding: [11, 12, 11, 16], data: ['TIC 410214986'] }),
    Object.assign({}, legendBase, { left: 2574, top: 45, padding: [11, 12, 11, 16], data: ['t=8.14 d'] })
  ],
  series: [
    {
      type: 'custom',
      name: 'body',
      xAxisIndex: 0,
      yAxisIndex: 0,
      silent: true,
      renderItem: bodyColumn,
      encode: { x: 0, y: [1, 2] },
      data: curveBody.map(function(r) { return [2000 + r[0], 1 + r[1] / 1e5, 1 + r[2] / 1e5] })
    },
    {
      type: 'scatter',
      name: 'TIC 410214986',
      xAxisIndex: 0,
      yAxisIndex: 0,
      symbolSize: 6,
      silent: true,
      itemStyle: { color: dotColor, opacity: 1 },
      data: toPoints(curvePoints, 2000).concat(toPoints(curveEdge, 2000))
    },
    {
      type: 'scatter',
      name: 't=8.14 d',
      xAxisIndex: 2,
      yAxisIndex: 2,
      symbolSize: 5.6,
      silent: true,
      itemStyle: { color: dotColor, opacity: 1 },
      data: toPoints(foldBody, 0).concat(toPoints(foldFill, 0), toPoints(foldPoints, 0))
    }
  ]
}

chart.setOption(option)
window.addEventListener('resize', function() { chart.resize() })
</script>
</body>
</html>
